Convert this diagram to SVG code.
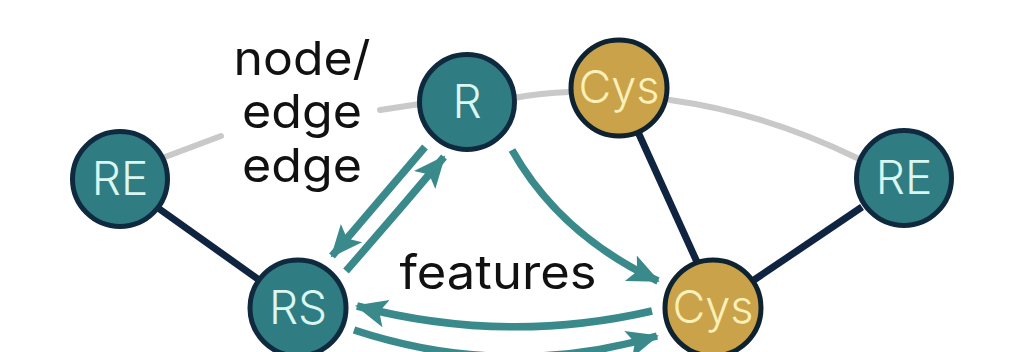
<svg xmlns="http://www.w3.org/2000/svg" width="1036" height="352" viewBox="0 0 1036 352">
<defs>
<marker id="ah" markerUnits="userSpaceOnUse" markerWidth="34" markerHeight="34" viewBox="0 0 34 34" refX="30" refY="17" orient="auto">
<path d="M0,3 L32,17 L0,31 L7,17 Z" fill="#3a8a8c"/>
</marker>
<style>
.gray{fill:none;stroke:#c9c9c9;stroke-width:6;stroke-linecap:round}
.dark{fill:none;stroke:#0f2440;stroke-width:7}
.arr{fill:none;stroke:#3a8a8c;stroke-width:7.5;marker-end:url(#ah)}
.teal{fill:#2f7c82;stroke:#0f2a3f;stroke-width:5}
.gold{fill:#c9a24a;stroke:#0f2230;stroke-width:5}
.tl{font-family:Inter,"Liberation Sans",sans-serif;font-size:46px;font-weight:300;fill:#d9f6f1;text-anchor:middle}
.gl{font-family:Inter,"Liberation Sans",sans-serif;font-size:45px;font-weight:300;fill:#fbf0b8;text-anchor:middle}
.lab{font-family:Inter,"Liberation Sans",sans-serif;font-size:47px;fill:#111;text-anchor:middle}
</style>
</defs>
<rect width="1036" height="352" fill="#ffffff"/>
<g id="connectors">
<path class="gray" d="M165,157 L221,136"/>
<path class="gray" d="M380,110 L420,104"/>
<path class="gray" d="M514,98 Q540,93 570,92"/>
<path class="gray" d="M670,100 Q765,113 857,158"/>
<path class="dark" d="M158,208 L262,282"/>
<path class="dark" d="M638,132 L697,262"/>
<path class="dark" d="M862,207 L754,280"/>
<path class="arr" d="M425,147 Q380,200 332,256"/>
<path class="arr" d="M346,271 Q395,215 444,157"/>
<path class="arr" d="M512,150 Q560,235 658,281"/>
<path class="arr" d="M652,311 Q505,345 357,306"/>
<path class="arr" d="M354,330 Q505,380 657,336"/>
</g>
<g id="label-node-edge">
<text class="lab" x="302" y="75" textLength="137" lengthAdjust="spacingAndGlyphs">node/</text>
<text class="lab" x="302" y="128" textLength="120" lengthAdjust="spacingAndGlyphs">edge</text>
<text class="lab" x="302" y="182" textLength="120" lengthAdjust="spacingAndGlyphs">edge</text>
</g>
<g id="label-features">
<text class="lab" x="498" y="289" textLength="197" lengthAdjust="spacingAndGlyphs">features</text>
</g>
<g id="node-RE-left"><circle class="teal" cx="120" cy="179" r="47.5"/><text class="tl" x="120" y="195">RE</text></g>
<g id="node-R"><circle class="teal" cx="467" cy="102" r="47.5"/><text class="tl" x="467" y="118">R</text></g>
<g id="node-Cys-top"><circle class="gold" cx="619" cy="88" r="48"/><text class="gl" x="619" y="103">Cys</text></g>
<g id="node-RE-right"><circle class="teal" cx="904" cy="178" r="47.5"/><text class="tl" x="904" y="194">RE</text></g>
<g id="node-RS"><circle class="teal" cx="298" cy="308" r="48"/><text class="tl" x="298" y="324">RS</text></g>
<g id="node-Cys-bottom"><circle class="gold" cx="713" cy="308" r="48"/><text class="gl" x="713" y="323">Cys</text></g>
</svg>
